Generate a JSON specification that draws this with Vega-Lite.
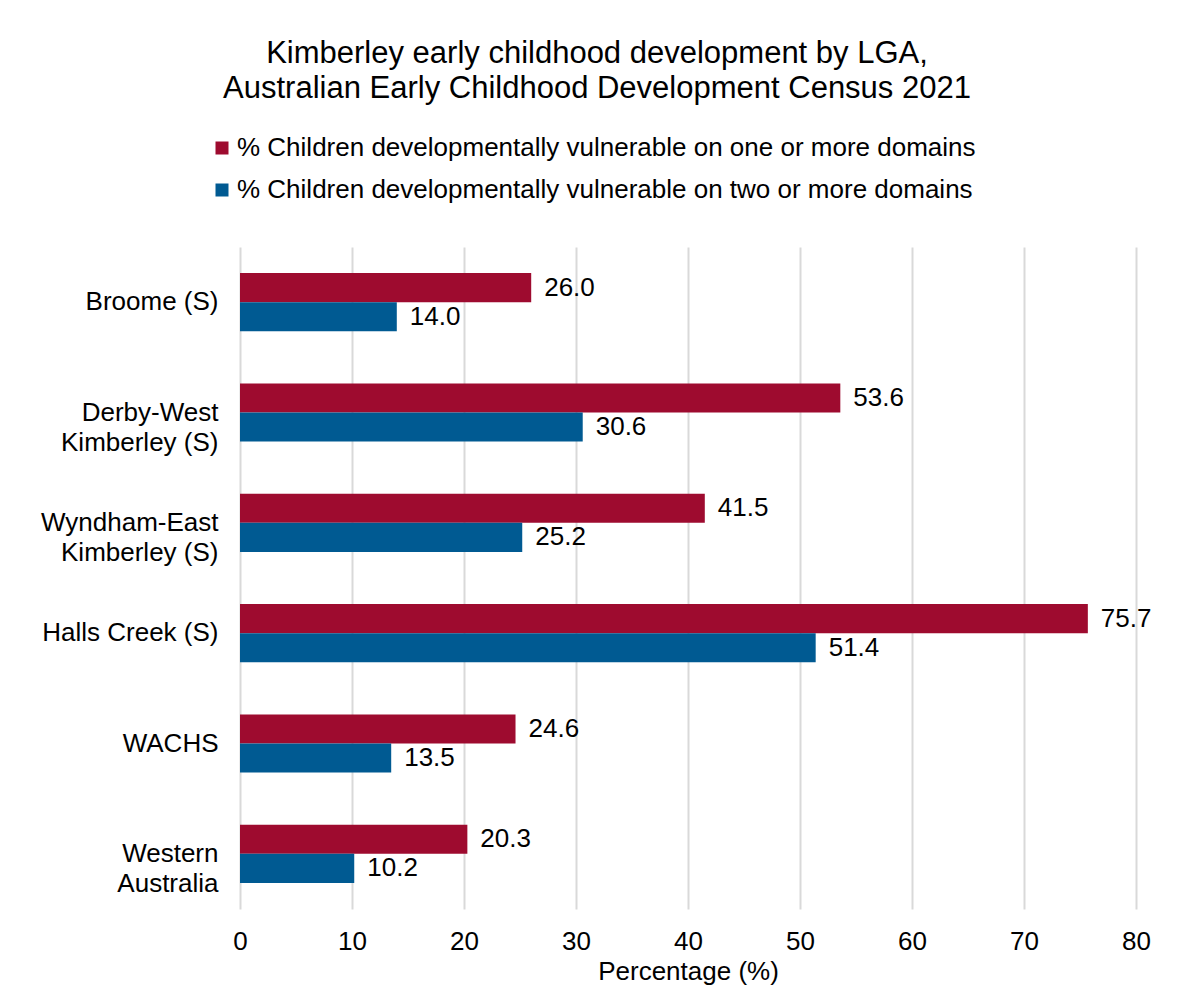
{
  "$schema": "https://vega.github.io/schema/vega-lite/v6.json",
  "width": 896,
  "height": 662,
  "autosize": {"type": "none"},
  "padding": {"left": 240, "top": 247, "right": 42, "bottom": 83},
  "background": "white",
  "title": {
    "text": ["Kimberley early childhood development by LGA,", "Australian Early Childhood Development Census 2021"],
    "font": "Liberation Sans",
    "fontSize": 31,
    "fontWeight": "normal",
    "color": "#000000",
    "anchor": "middle",
    "frame": "group",
    "dx": -91,
    "lineHeight": 35,
    "offset": 30
  },
  "data": {
    "values": [
      {"lga": "Broome (S)", "series": "% Children developmentally vulnerable on one or more domains", "value": 26.0},
      {"lga": "Broome (S)", "series": "% Children developmentally vulnerable on two or more domains", "value": 14.0},
      {"lga": "Derby-West Kimberley (S)", "series": "% Children developmentally vulnerable on one or more domains", "value": 53.6},
      {"lga": "Derby-West Kimberley (S)", "series": "% Children developmentally vulnerable on two or more domains", "value": 30.6},
      {"lga": "Wyndham-East Kimberley (S)", "series": "% Children developmentally vulnerable on one or more domains", "value": 41.5},
      {"lga": "Wyndham-East Kimberley (S)", "series": "% Children developmentally vulnerable on two or more domains", "value": 25.2},
      {"lga": "Halls Creek (S)", "series": "% Children developmentally vulnerable on one or more domains", "value": 75.7},
      {"lga": "Halls Creek (S)", "series": "% Children developmentally vulnerable on two or more domains", "value": 51.4},
      {"lga": "WACHS", "series": "% Children developmentally vulnerable on one or more domains", "value": 24.6},
      {"lga": "WACHS", "series": "% Children developmentally vulnerable on two or more domains", "value": 13.5},
      {"lga": "Western Australia", "series": "% Children developmentally vulnerable on one or more domains", "value": 20.3},
      {"lga": "Western Australia", "series": "% Children developmentally vulnerable on two or more domains", "value": 10.2}
    ]
  },
  "encoding": {
    "y": {
      "field": "lga",
      "type": "nominal",
      "sort": null,
      "scale": {"paddingInner": 0.473, "paddingOuter": 0.2365},
      "axis": {
        "title": null,
        "domain": false,
        "ticks": false,
        "tickSize": 0,
        "labelPadding": 22,
        "labelFont": "Liberation Sans",
        "labelFontSize": 26,
        "labelColor": "#000000",
        "labelLineHeight": 30,
        "labelLimit": 400,
        "labelExpr": "indexof(datum.label, ' Kimberley (S)') > 0 ? [replace(datum.label, ' Kimberley (S)', ''), 'Kimberley (S)'] : datum.label == 'Western Australia' ? ['Western', 'Australia'] : datum.label"
      }
    },
    "yOffset": {"field": "series", "type": "nominal", "sort": null},
    "x": {
      "field": "value",
      "type": "quantitative",
      "scale": {"domain": [0, 80], "nice": false},
      "axis": {
        "title": "Percentage (%)",
        "titleFont": "Liberation Sans",
        "titleFontSize": 26,
        "titleFontWeight": "normal",
        "titleColor": "#000000",
        "titlePadding": 4,
        "values": [0, 10, 20, 30, 40, 50, 60, 70, 80],
        "domain": false,
        "ticks": false,
        "tickSize": 0,
        "labelPadding": 19,
        "labelFlush": false,
        "labelFont": "Liberation Sans",
        "labelFontSize": 26,
        "labelColor": "#000000",
        "grid": true,
        "gridColor": "#d9d9d9",
        "gridWidth": 2
      }
    }
  },
  "layer": [
    {
      "mark": {"type": "bar"},
      "encoding": {
        "color": {
          "field": "series",
          "type": "nominal",
          "sort": null,
          "scale": {"range": ["#9e0b2f", "#005a92"]},
          "legend": {
            "title": null,
            "orient": "none",
            "legendX": -31,
            "legendY": -112,
            "direction": "vertical",
            "symbolType": "square",
            "symbolSize": 169,
            "symbolStrokeWidth": 0,
            "labelFont": "Liberation Sans",
            "labelFontSize": 26,
            "labelColor": "#000000",
            "labelOffset": 2,
            "labelLimit": 900,
            "rowPadding": 16
          }
        }
      }
    },
    {
      "mark": {"type": "text", "align": "left", "baseline": "middle", "dx": 13, "font": "Liberation Sans", "fontSize": 26, "color": "#000000"},
      "encoding": {
        "text": {"field": "value", "type": "quantitative", "format": ".1f"}
      }
    }
  ],
  "config": {
    "view": {"stroke": null}
  }
}
